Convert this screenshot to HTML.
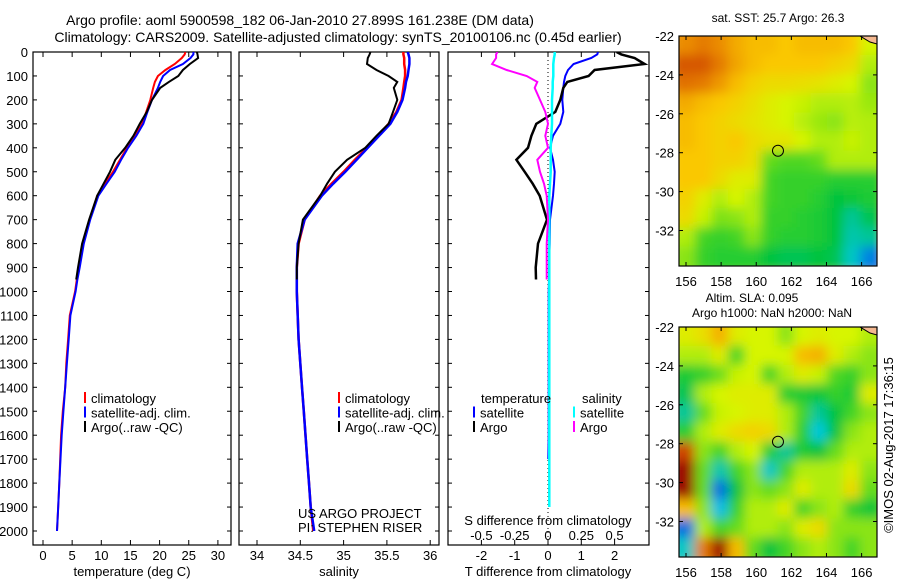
<!DOCTYPE html>
<html><head><meta charset="utf-8"><style>
html,body{margin:0;padding:0;background:#fff;width:900px;height:580px;overflow:hidden}
svg text{font-family:"Liberation Sans",sans-serif;fill:#000}
</style></head><body>
<svg id="fig" width="900" height="580" xmlns="http://www.w3.org/2000/svg">
<defs>
<filter id="blur" x="0" y="0" width="1" height="1"><feGaussianBlur stdDeviation="5.5"/></filter>
<clipPath id="cm1"><rect x="679" y="36" width="198" height="230"/></clipPath>
<clipPath id="cm2"><rect x="679" y="327" width="198" height="230"/></clipPath>
<clipPath id="cp1"><rect x="33" y="52" width="198" height="493"/></clipPath>
<clipPath id="cp2"><rect x="239" y="52" width="200" height="493"/></clipPath>
<clipPath id="cp3"><rect x="448" y="52" width="201" height="493"/></clipPath>
</defs>
<text x="300" y="25" font-size="14" text-anchor="middle">Argo profile: aoml 5900598_182 06-Jan-2010 27.899S 161.238E (DM data)</text>
<text x="338" y="42" font-size="14" text-anchor="middle">Climatology: CARS2009. Satellite-adjusted climatology: synTS_20100106.nc (0.45d earlier)</text>
<g id="g"></g>
<text transform="translate(893,445) rotate(-90)" font-size="13" text-anchor="middle">©IMOS 02-Aug-2017 17:36:15</text>
</svg>
<script>
// depth levels (m)
const depths=[0,10,25,50,75,100,125,150,200,250,300,350,400,450,500,550,600,700,800,900,950,1000,1100,1200,1300,1400,1500,1600,1700,1800,1900,2000];
const tClim=[24.4,24.3,23.8,22.6,21.0,19.7,19.2,18.9,18.4,17.7,17.0,15.8,14.4,13.2,12.0,10.6,9.3,8.0,6.9,6.2,5.8,5.5,4.6,4.3,4.0,3.8,3.4,3.1,2.95,2.8,2.6,2.4];
const tSat=[25.8,25.8,25.3,24.0,21.8,20.6,20.1,19.7,18.7,17.9,17.2,16.0,14.6,13.4,12.3,10.9,9.5,8.1,7.0,6.3,5.9,5.6,4.7,4.4,4.1,3.8,3.5,3.2,3.0,2.8,2.6,2.4];
const tArgo=[26.4,26.5,26.6,25.2,24.0,23.2,21.6,20.1,18.7,17.8,16.6,15.5,14.1,12.4,11.5,10.4,9.3,7.9,6.7,6.0,5.7];
const sClim=[35.69,35.69,35.70,35.70,35.71,35.71,35.70,35.69,35.67,35.61,35.52,35.40,35.27,35.13,35.00,34.86,34.73,34.55,34.48,34.46,34.46,34.46,34.47,34.48,34.50,34.52,34.54,34.56,34.58,34.60,34.62,34.65];
const sSat=[35.74,35.75,35.76,35.76,35.75,35.74,35.72,35.71,35.68,35.62,35.54,35.41,35.28,35.15,35.02,34.88,34.75,34.55,34.47,34.46,34.46,34.46,34.47,34.48,34.50,34.52,34.54,34.56,34.58,34.60,34.62,34.66];
const sArgo=[35.31,35.30,35.28,35.27,35.38,35.52,35.62,35.58,35.62,35.57,35.52,35.38,35.25,35.04,34.90,34.81,34.73,34.53,34.48,34.46,34.46];
const dtSat=[1.5,1.48,1.3,0.77,0.6,0.52,0.48,0.46,0.43,0.46,0.37,0.15,0.06,0.15,0.2,0.18,0.15,0.06,0.05,0.03,0.03,0.02,0.02,0.02,0.02,0.02,0.02,0.02,0.01];
const dtArgo=[2.06,2.2,2.6,2.9,1.4,1.22,0.58,0.46,0.37,0.22,-0.35,-0.5,-0.6,-0.95,-0.7,-0.46,-0.25,-0.03,-0.3,-0.37,-0.36];
const dsSat=[0.05,0.05,0.045,0.04,0.04,0.04,0.035,0.035,0.03,0.03,0.03,0.025,0.02,0.02,0.02,0.015,0.01,0.01,0.01,0.01,0.01,0.01,0.01,0.01,0.01,0.01,0.01,0.01,0.01,0.01,0.01];
const dsArgo=[-0.38,-0.39,-0.39,-0.42,-0.31,-0.16,-0.08,-0.1,-0.06,-0.02,0.0,-0.02,0.0,-0.08,-0.06,-0.03,-0.01,0.0,-0.01,-0.01,-0.01];
const depthTicks=[0,100,200,300,400,500,600,700,800,900,1000,1100,1200,1300,1400,1500,1600,1700,1800,1900,2000];
const tempTicks=[0,5,10,15,20,25,30];
const salTicks=[34,34.5,35,35.5,36];
const dtTicks=[-2,-1,0,1,2];
const dsTicks=[-0.5,-0.25,0,0.25,0.5];
const dsTickLabels=['-0.5','-0.25','0','0.25','0.5'];
const latTicks=[-22,-24,-26,-28,-30,-32];
const lonTicks=[156,158,160,162,164,166];
const argoLon=161.238, argoLat=-27.899;
// map fields (normalized colour index 0..1), rows north->south, cols west->east
const sstGrid=[
[0.80,0.82,0.80,0.75,0.72,0.72,0.70,0.72,0.72,0.72,0.70,0.60],
[0.86,0.86,0.82,0.76,0.72,0.70,0.70,0.70,0.70,0.68,0.66,0.55],
[0.83,0.82,0.78,0.72,0.68,0.66,0.66,0.65,0.64,0.62,0.60,0.50],
[0.75,0.72,0.70,0.68,0.65,0.62,0.60,0.58,0.55,0.55,0.56,0.52],
[0.72,0.70,0.68,0.66,0.64,0.62,0.60,0.56,0.52,0.50,0.56,0.55],
[0.72,0.70,0.68,0.70,0.66,0.64,0.64,0.60,0.55,0.55,0.58,0.55],
[0.70,0.70,0.68,0.68,0.65,0.45,0.42,0.42,0.45,0.55,0.55,0.55],
[0.70,0.70,0.66,0.62,0.62,0.40,0.38,0.38,0.38,0.36,0.36,0.36],
[0.68,0.62,0.55,0.60,0.55,0.40,0.38,0.38,0.36,0.30,0.32,0.34],
[0.66,0.58,0.48,0.50,0.55,0.38,0.38,0.36,0.34,0.30,0.22,0.28],
[0.55,0.40,0.38,0.40,0.50,0.38,0.36,0.36,0.34,0.30,0.20,0.22],
[0.50,0.38,0.36,0.36,0.36,0.30,0.28,0.28,0.30,0.28,0.18,0.08]];
const slaGrid=[
[0.62,0.65,0.74,0.62,0.60,0.60,0.50,0.60,0.62,0.60,0.60,0.55],
[0.55,0.55,0.62,0.40,0.60,0.60,0.60,0.72,0.74,0.62,0.55,0.50],
[0.34,0.38,0.46,0.58,0.60,0.40,0.55,0.62,0.58,0.42,0.38,0.50],
[0.28,0.55,0.60,0.62,0.62,0.62,0.36,0.34,0.32,0.38,0.34,0.62],
[0.22,0.45,0.58,0.60,0.62,0.62,0.55,0.40,0.22,0.30,0.40,0.50],
[0.36,0.55,0.62,0.66,0.68,0.66,0.55,0.36,0.16,0.30,0.50,0.55],
[0.88,0.50,0.40,0.55,0.60,0.36,0.22,0.34,0.30,0.45,0.55,0.55],
[0.99,0.45,0.20,0.40,0.50,0.18,0.40,0.55,0.55,0.55,0.62,0.50],
[0.99,0.45,0.06,0.30,0.50,0.45,0.50,0.62,0.55,0.55,0.66,0.45],
[0.72,0.50,0.14,0.38,0.55,0.55,0.62,0.40,0.50,0.55,0.38,0.32],
[0.06,0.55,0.40,0.45,0.55,0.55,0.50,0.62,0.66,0.50,0.50,0.50],
[0.18,0.82,0.99,0.72,0.45,0.30,0.40,0.50,0.55,0.50,0.40,0.50]];

const NS='http://www.w3.org/2000/svg';
const G=document.getElementById('g');
function el(tag,attrs,parent,txt){const e=document.createElementNS(NS,tag);for(const k in attrs)e.setAttribute(k,attrs[k]);if(txt!==undefined)e.textContent=txt;(parent||G).appendChild(e);return e;}
// scales
const yD=d=>52+d*0.2395;
const xT=t=>43+t*5.83;
const xS=s=>257+(s-34)*86.6;
const xDT=v=>548+v*33.3;
const xDS=v=>548+v*133.2;
const mapLon=l=>686+(l-156)*17.56;
const mapLat1=l=>36+(-22-l)*19.45;
const mapLat2=l=>327+(-22-l)*19.45;

function line(vals,xf,color,w,clip,name){
  let pts=[];for(let i=0;i<vals.length;i++)pts.push(xf(vals[i]).toFixed(1)+','+yD(depths[i]).toFixed(1));
  const p=el('polyline',{points:pts.join(' '),fill:'none',stroke:color,'stroke-width':w,'clip-path':'url(#'+clip+')'});
  
  
}
function box(x,y,w,h,name){const r=el('rect',{x:x,y:y,width:w,height:h,fill:'none',stroke:'#000','stroke-width':1.2});
  
  }

// panel frames + depth ticks
const panels=[[33,198,'temperature-panel'],[239,200,'salinity-panel'],[448,201,'difference-panel']];
panels.forEach(p=>{
  box(p[0],52,p[1],493,p[2]);
  depthTicks.forEach(d=>{el('line',{x1:p[0],x2:p[0]+4,y1:yD(d),y2:yD(d),stroke:'#000'});el('line',{x1:p[0]+p[1],x2:p[0]+p[1]-4,y1:yD(d),y2:yD(d),stroke:'#000'});});
});
depthTicks.forEach(d=>{const t=el('text',{x:28,y:yD(d)+5,'font-size':13,'text-anchor':'end'},G,String(d));
  
  });
function xticks(ticks,xf,labels,ly,top,bottom){
  ticks.forEach((v,i)=>{const x=xf(v);
    if(top)el('line',{x1:x,x2:x,y1:52,y2:57,stroke:'#000'});
    if(bottom)el('line',{x1:x,x2:x,y1:545,y2:540,stroke:'#000'});
    const t=el('text',{x:x,y:ly,'font-size':13,'text-anchor':'middle'},G,labels?labels[i]:String(v));
    
    });
}
xticks(tempTicks,xT,null,560,true,true);
xticks(salTicks,xS,null,560,true,true);
xticks(dtTicks,xDT,null,560,true,true);
xticks(dsTicks,xDS,dsTickLabels,540,false,false);
[['temperature (deg C)',132,576,'temperature-axis-title'],['salinity',339,576,'salinity-axis-title'],['T difference from climatology',548,576,'t-diff-axis-title'],['S difference from climatology',548,525,'s-diff-axis-title']].forEach(a=>{
  const t=el('text',{x:a[1],y:a[2],'font-size':13,'text-anchor':'middle'},G,a[0]);
  
  });
// zero dotted line
el('line',{x1:548,x2:548,y1:52,y2:545,stroke:'#000','stroke-dasharray':'1,3'});

// profiles
line(tClim,xT,'#ff0000',2,'cp1','temp-climatology-line');
line(tSat,xT,'#0000ff',2,'cp1','temp-satellite-line');
line(tArgo,xT,'#000000',2,'cp1','temp-argo-line');
line(sClim,xS,'#ff0000',2.5,'cp2','sal-climatology-line');
line(sSat,xS,'#0000ff',2.5,'cp2','sal-satellite-line');
line(sArgo,xS,'#000000',2,'cp2','sal-argo-line');
line(dtSat,xDT,'#0000ff',2,'cp3','tdiff-satellite-line');
line(dtArgo,xDT,'#000000',2.5,'cp3','tdiff-argo-line');
line(dsSat,xDS,'#00ffff',2.5,'cp3','sdiff-satellite-line');
line(dsArgo,xDS,'#ff00ff',2,'cp3','sdiff-argo-line');

// legends
function leg(x,y,color,label){
  el('line',{x1:x,x2:x,y1:y-11,y2:y,stroke:color,'stroke-width':2});
  const t=el('text',{x:x+6,y:y,'font-size':13},G,label);
  
  
}
[[85,'#ff0000','climatology'],[85,'#0000ff','satellite-adj. clim.'],[85,'#000','Argo(..raw -QC)']].forEach((l,i)=>leg(l[0],403+i*14.5,l[1],l[2]));
[[339,'#ff0000','climatology'],[339,'#0000ff','satellite-adj. clim.'],[339,'#000','Argo(..raw -QC)']].forEach((l,i)=>leg(l[0],403+i*14.5,l[1],l[2]));
let t1=el('text',{x:481,y:403,'font-size':13},G,'temperature');


let t2=el('text',{x:582,y:403,'font-size':13},G,'salinity');


leg(474,417.5,'#0000ff','satellite');leg(474,432,'#000','Argo');
leg(574,417.5,'#00ffff','satellite');leg(574,432,'#ff00ff','Argo');
let c1=el('text',{x:298,y:518,'font-size':13},G,'US ARGO PROJECT');


let c2=el('text',{x:298,y:532,'font-size':13},G,'PI: STEPHEN RISER');



// colormap
const stops=[[0,[0,50,220]],[0.15,[0,200,230]],[0.3,[0,195,60]],[0.45,[100,220,30]],[0.6,[215,245,0]],[0.7,[250,200,0]],[0.8,[235,140,0]],[0.9,[200,50,0]],[1,[150,0,0]]];
function cmap(v){for(let i=1;i<stops.length;i++){if(v<=stops[i][0]){const a=stops[i-1],b=stops[i],f=(v-a[0])/(b[0]-a[0]);const c=a[1].map((q,k)=>Math.round(q+(b[1][k]-q)*f));return 'rgb('+c.join(',')+')';}}return 'rgb(150,0,0)';}
function drawMap(grid,top,latf,clip,name){
  const g=el('g',{'clip-path':'url(#'+clip+')'});
  
  
  const inner=el('g',{filter:'url(#blur)'},g);
  const rows=grid.length,cols=grid[0].length;const cw=198/cols,ch=230/rows;
  el('rect',{x:670,y:top-10,width:220,height:250,fill:cmap(grid[5][5])},inner);
  for(let r=0;r<rows;r++)for(let c=0;c<cols;c++){
    const ex0=c===0?8:0, ey0=r===0?8:0, ex1=c===cols-1?8:0, ey1=r===rows-1?8:0;
    const cell=el('rect',{x:679+c*cw-0.5-ex0,y:top+r*ch-0.5-ey0,width:cw+1+ex0+ex1,height:ch+1+ey0+ey1,fill:cmap(grid[r][c])},inner);
    
    
  }
  el('polygon',{points:(860)+','+(top)+' 877,'+top+' 877,'+(top+8)+' 870,'+(top+6),fill:'#f4b890',stroke:'#000','stroke-width':1},g);
  box(679,top,198,230,name+'-frame');
  latTicks.forEach(l=>{const y=latf(l);el('line',{x1:679,x2:683,y1:y,y2:y,stroke:'#000'});el('line',{x1:877,x2:873,y1:y,y2:y,stroke:'#000'});
    const t=el('text',{x:674,y:y+5,'font-size':13,'text-anchor':'end'},G,String(l));
    
    });
  lonTicks.forEach(l=>{const x=mapLon(l);el('line',{x1:x,x2:x,y1:top,y2:top+4,stroke:'#000'});el('line',{x1:x,x2:x,y1:top+230,y2:top+226,stroke:'#000'});
    const t=el('text',{x:x,y:top+250,'font-size':13,'text-anchor':'middle'},G,String(l));
    
    });
  const m=el('circle',{cx:mapLon(argoLon),cy:latf(argoLat),r:5.5,fill:'none',stroke:'#000','stroke-width':1});
  
  
}
drawMap(sstGrid,36,mapLat1,'cm1','sst-map');
drawMap(slaGrid,327,mapLat2,'cm2','sla-map');
[['sat. SST: 25.7 Argo: 26.3',778,22,'sst-map-title'],['Altim. SLA: 0.095',752,302,'sla-map-title'],['Argo h1000: NaN h2000: NaN',772,317,'sla-map-subtitle']].forEach(a=>{
  const t=el('text',{x:a[1],y:a[2],'font-size':12,'text-anchor':'middle'},G,a[0]);
  
  });
</script>
</body></html>
